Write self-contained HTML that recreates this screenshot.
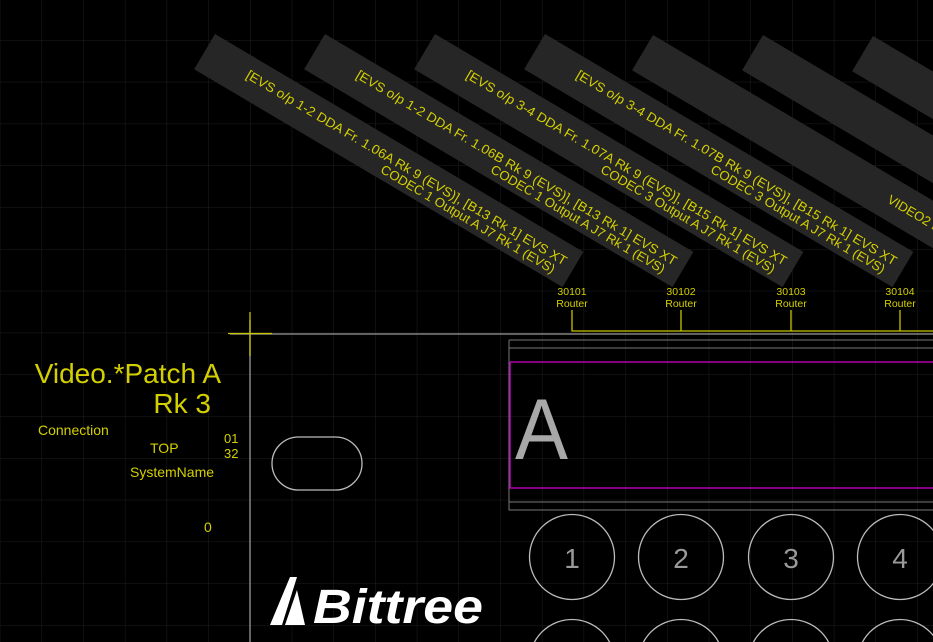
<!DOCTYPE html>
<html><head><meta charset="utf-8"><style>
html,body{margin:0;padding:0;background:#000;overflow:hidden;width:933px;height:642px;}
svg{display:block;}
text{font-family:"Liberation Sans",sans-serif;}
</style></head><body>
<svg width="933" height="642" viewBox="0 0 933 642" xmlns="http://www.w3.org/2000/svg">
<defs>
<pattern id="g" x="41.5" y="40" width="41.7" height="41.8" patternUnits="userSpaceOnUse">
<path d="M0 0H41.7M0 0V41.8" stroke="#1e1e1e" stroke-width="1" fill="none"/>
</pattern>
</defs>
<rect width="933" height="642" fill="#000"/>
<rect width="933" height="642" fill="url(#g)"/>

<!-- banners -->
<g fill="#d4d000" font-size="13">
<g transform="translate(215,34) rotate(30.6)"><rect width="428" height="41" fill="#262626"/>
<text x="48" y="22" textLength="370" lengthAdjust="spacingAndGlyphs">[EVS o/p 1-2 DDA Fr. 1.06A Rk 9 (EVS)], [B13 Rk 1] EVS XT</text>
<text x="212" y="35" textLength="200" lengthAdjust="spacingAndGlyphs">CODEC 1 Output A J7 Rk 1 (EVS)</text></g>
<g transform="translate(325,34) rotate(30.6)"><rect width="428" height="41" fill="#262626"/>
<text x="48" y="22" textLength="370" lengthAdjust="spacingAndGlyphs">[EVS o/p 1-2 DDA Fr. 1.06B Rk 9 (EVS)], [B13 Rk 1] EVS XT</text>
<text x="212" y="35" textLength="200" lengthAdjust="spacingAndGlyphs">CODEC 1 Output A J7 Rk 1 (EVS)</text></g>
<g transform="translate(435,34) rotate(30.6)"><rect width="428" height="41" fill="#262626"/>
<text x="48" y="22" textLength="370" lengthAdjust="spacingAndGlyphs">[EVS o/p 3-4 DDA Fr. 1.07A Rk 9 (EVS)], [B15 Rk 1] EVS XT</text>
<text x="212" y="35" textLength="200" lengthAdjust="spacingAndGlyphs">CODEC 3 Output A J7 Rk 1 (EVS)</text></g>
<g transform="translate(545,34) rotate(30.6)"><rect width="428" height="41" fill="#262626"/>
<text x="48" y="22" textLength="370" lengthAdjust="spacingAndGlyphs">[EVS o/p 3-4 DDA Fr. 1.07B Rk 9 (EVS)], [B15 Rk 1] EVS XT</text>
<text x="212" y="35" textLength="200" lengthAdjust="spacingAndGlyphs">CODEC 3 Output A J7 Rk 1 (EVS)</text></g>
<g transform="translate(653,35) rotate(30.6)"><rect width="428" height="41" fill="#262626"/>
<text x="286" y="25">VIDEO2 Router</text></g>
<g transform="translate(763,35) rotate(30.6)"><rect width="428" height="41" fill="#262626"/></g>
<g transform="translate(873,36) rotate(30.6)"><rect width="428" height="41" fill="#262626"/></g>
</g>

<!-- router labels -->
<g fill="#d4d000" font-size="10.5" text-anchor="middle">
<text x="572" y="295">30101</text><text x="572" y="307">Router</text>
<text x="681" y="295">30102</text><text x="681" y="307">Router</text>
<text x="791" y="295">30103</text><text x="791" y="307">Router</text>
<text x="900" y="295">30104</text><text x="900" y="307">Router</text>
</g>
<g stroke="#c8c400" stroke-width="1.3" fill="none">
<path d="M572 310V331H933M681 310V331M791 310V331M900 310V331"/>
</g>

<!-- frame lines -->
<path d="M230 334H933M250 320V642" stroke="#9a9a9a" stroke-width="1.3"/>
<path d="M228 333.5H272M250 312V356" stroke="#c8c400" stroke-width="1.3"/>

<!-- panel -->
<g fill="none" stroke="#777" stroke-width="1">
<path d="M509 340H933M509 340V510H933M509 348H933M509 502H933"/>
</g>
<path d="M510 362H933M510 362V488H933" stroke="#d000d0" stroke-width="1.3" fill="none"/>
<text x="515" y="459" font-size="86" fill="#a8a8a8" textLength="53" lengthAdjust="spacingAndGlyphs">A</text>

<!-- circles -->
<g fill="none" stroke="#bbb" stroke-width="1.3">
<circle cx="572" cy="557" r="42.5"/><circle cx="681" cy="557" r="42.5"/>
<circle cx="791" cy="557" r="42.5"/><circle cx="900" cy="557" r="42.5"/>
<circle cx="572" cy="662" r="42.5"/><circle cx="681" cy="662" r="42.5"/>
<circle cx="791" cy="662" r="42.5"/><circle cx="900" cy="662" r="42.5"/>
</g>
<g fill="#9a9a9a" font-size="28" text-anchor="middle">
<text x="572" y="568">1</text><text x="681" y="568">2</text>
<text x="791" y="568">3</text><text x="900" y="568">4</text>
</g>

<!-- oval -->
<rect x="272" y="437" width="90" height="53" rx="26.5" fill="none" stroke="#bbb" stroke-width="1.3"/>

<!-- left labels -->
<g fill="#d4d000">
<text x="221" y="383" font-size="28" text-anchor="end">Video.*Patch A</text>
<text x="211" y="413" font-size="28" text-anchor="end">Rk 3</text>
<text x="38" y="435" font-size="14">Connection</text>
<text x="150" y="453" font-size="14">TOP</text>
<text x="224" y="443" font-size="13">01</text>
<text x="224" y="458" font-size="13">32</text>
<text x="130" y="477" font-size="14">SystemName</text>
<text x="204" y="532" font-size="14">0</text>
</g>

<!-- logo -->
<g fill="#fff">
<polygon points="270,625 290,577 297,577 282,625"/>
<polygon points="285,625 297,590 305,625"/>
<text x="313" y="623" font-size="48" font-weight="bold" font-style="italic" textLength="170" lengthAdjust="spacingAndGlyphs">Bittree</text>
</g>
</svg>
</body></html>
